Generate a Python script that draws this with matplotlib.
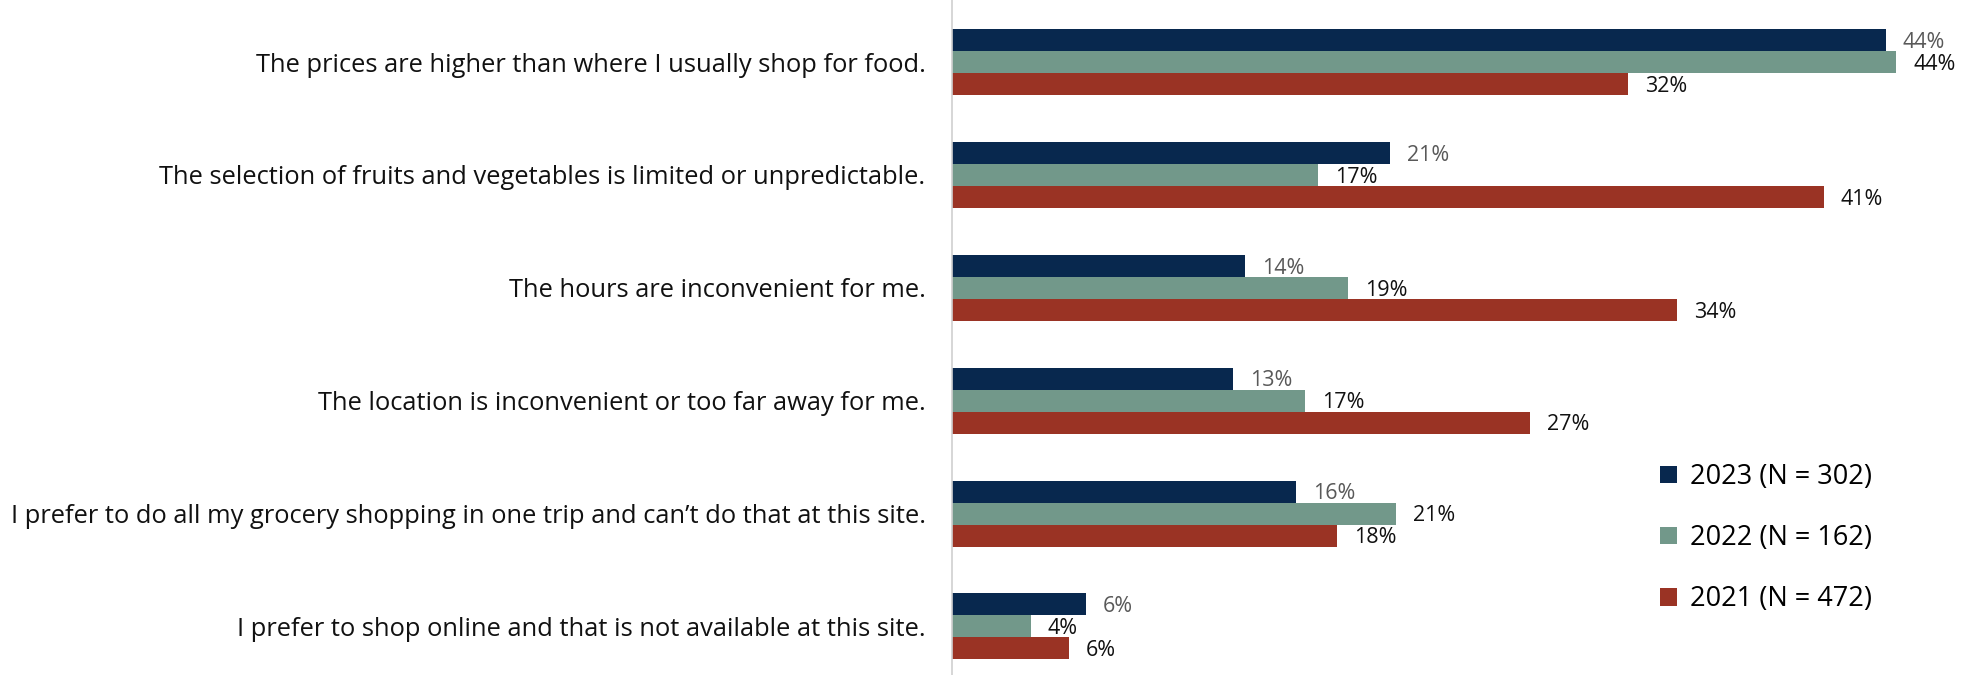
import numpy as np
import matplotlib.pyplot as plt

categories = [
    "The prices are higher than where I usually shop for food.",
    "The selection of fruits and vegetables is limited or unpredictable.",
    "The hours are inconvenient for me.",
    "The location is inconvenient or too far away for me.",
    "I prefer to do all my grocery shopping in one trip and can\u2019t do that at this site.",
    "I prefer to shop online and that is not available at this site.",
]
vals_2023 = [43.9, 20.6, 13.8, 13.2, 16.2, 6.3]
vals_2022 = [44.4, 17.2, 18.6, 16.6, 20.9, 3.7]
vals_2021 = [31.8, 41.0, 34.1, 27.2, 18.1, 5.5]
series_names = ["2023 (N = 302)", "2022 (N = 162)", "2021 (N = 472)"]
colors = ["#08284E", "#72988A", "#9A3324"]
label_colors = ["#595959", "#111111", "#111111"]

plt.rcParams['font.family'] = ['Open Sans', 'DejaVu Sans']

fig = plt.figure(figsize=(19.82, 6.75), dpi=100)
ax = fig.add_axes([0.4803, 0.0, 0.5097, 1.0])

y = np.arange(len(categories))
h = 0.195
handles = []
for i, (vals, c, lc) in enumerate(zip([vals_2023, vals_2022, vals_2021], colors, label_colors)):
    pos = y + (i - 1) * h
    b = ax.barh(pos, vals, height=h, color=c, label=series_names[i])
    handles.append(b)
    for p, v in zip(pos, vals):
        ax.text(v + 0.8, p + 0.02, f"{round(v):.0f}%", va='center', ha='left',
                fontsize=15.5, color=lc)

ax.set_xlim(0, 47.5)
ax.set_ylim(5.43, -0.55)
ax.set_yticks(y)
ax.set_yticklabels(categories, fontsize=18.4, color='#111111')
ax.tick_params(axis='y', length=0, pad=19)
ax.set_xticks([])
for s in ['top', 'right', 'bottom']:
    ax.spines[s].set_visible(False)
ax.spines['left'].set_color('#d0d0d0')
ax.spines['left'].set_linewidth(1.2)

ax.legend(handles=handles, loc='upper left', bbox_to_anchor=(0.69, 0.33),
          frameon=False, fontsize=19.5, handlelength=0.63, handleheight=0.63,
          handletextpad=0.5, labelspacing=1.22, borderaxespad=0)

fig.savefig("out.png", dpi=100)
